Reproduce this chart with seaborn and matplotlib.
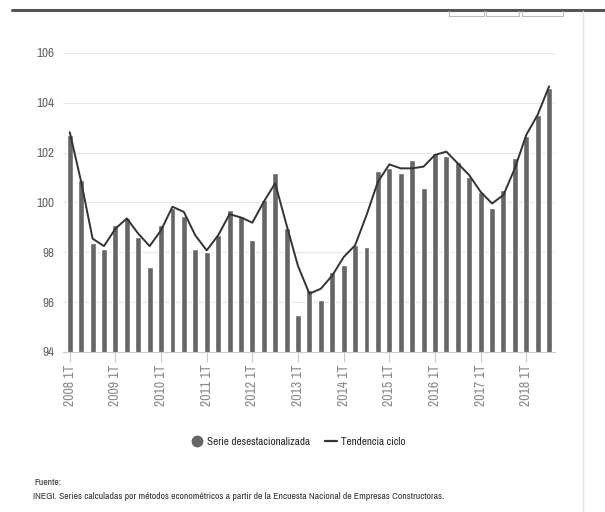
import matplotlib
matplotlib.use("Agg")
import matplotlib.pyplot as plt
from matplotlib import font_manager
from matplotlib.lines import Line2D
import numpy as np
import pandas as pd
import seaborn as sns

# Quarterly index, 2008 1T .. 2018 3T
years = list(range(2008, 2019))
quarters = [f"{y} {q}T" for y in years for q in ("I", "II", "III", "IV")][:43]

serie = [102.71, 100.90, 98.39, 98.12,
         99.11, 99.36, 98.62, 97.40,
         99.11, 99.76, 99.46, 98.12,
         98.01, 98.71, 99.69, 99.46,
         98.48, 100.12, 101.19, 98.98,
         95.49, 96.50, 96.09, 97.21,
         97.50, 98.28, 98.21, 101.28,
         101.37, 101.19, 101.69, 100.60,
         102.00, 101.88, 101.61, 101.03,
         100.43, 99.79, 100.52, 101.80,
         102.68, 103.52, 104.59]

tendencia = [102.82, 100.83, 98.55, 98.25,
             98.95, 99.36, 98.75, 98.25,
             98.89, 99.83, 99.62, 98.68,
             98.08, 98.68, 99.53, 99.40,
             99.19, 100.03, 100.77, 99.09,
             97.45, 96.34, 96.54, 97.07,
             97.81, 98.28, 99.49, 100.83,
             101.53, 101.37, 101.37, 101.44,
             101.91, 102.04, 101.57, 101.10,
             100.43, 99.96, 100.30, 101.37,
             102.71, 103.52, 104.66]

yticks = [94, 96, 98, 100, 102, 104, 106]
legend_labels = ["Serie desestacionalizada", "Tendencia ciclo"]
source_title = "Fuente:"
source_text = ("INEGI. Series calculadas por métodos econométricos a partir de la "
               "Encuesta Nacional de Empresas Constructoras.")

sns.set_style("white")

# pick a narrow face when one is available
entries = font_manager.fontManager.ttflist
narrow_names = sorted({f.name for f in entries
                       if "Narrow" in f.name or "Condensed" in f.name})
stretch = "normal"
if narrow_names:
    face = narrow_names[0]
elif any(f.name == "DejaVu Sans" and f.stretch == "condensed" for f in entries):
    face, stretch = "DejaVu Sans", "condensed"
else:
    face = "Liberation Sans"
plt.rcParams["font.family"] = [face, "DejaVu Sans"]
plt.rcParams["font.stretch"] = stretch
is_narrow = face != "Liberation Sans"

df = pd.DataFrame({"q": quarters, "serie": serie, "tendencia": tendencia})
df["pos"] = np.arange(len(df))

fig = plt.figure(figsize=(6.05, 5.12), dpi=100)
ax = fig.add_axes([0.104, 0.3125, 0.813, 0.584])

sns.barplot(data=df, x="pos", y="serie", color="#666666", width=0.52,
            saturation=1, ax=ax, native_scale=True, zorder=2)
sns.lineplot(data=df, x="pos", y="tendencia", color="#333333", lw=1.4,
             ax=ax, zorder=3)

ax.set_ylim(94, 106)
ax.set_xlim(-0.6, 42.5)
ax.set_yticks(yticks)
ax.set_yticklabels([str(v) for v in yticks], color="#666666",
                   fontsize=9.5 if is_narrow else 8)
ax.yaxis.grid(True, color="#e6e6e6", lw=0.8, zorder=0)
ax.xaxis.grid(False)
ax.set_xlabel("")
ax.set_ylabel("")
for s in ("top", "right", "left"):
    ax.spines[s].set_visible(False)
ax.spines["bottom"].set_color("#cccccc")
ax.spines["bottom"].set_linewidth(0.8)

year_pos = list(range(0, len(quarters), 4))
ax.set_xticks(year_pos)
ax.set_xticklabels([f"{quarters[i].split()[0]} 1T" for i in year_pos],
                   rotation=90, color="#8a8a8a", fontsize=10 if is_narrow else 8.5)
ax.tick_params(axis="x", length=7, width=0.8, color="#cccccc", pad=2,
               bottom=True)
ax.tick_params(axis="y", length=0, pad=6)

handles = [Line2D([], [], marker="o", ls="none", color="#666666", markersize=7.5),
           Line2D([], [], color="#333333", lw=1.6)]
fig.legend(handles, legend_labels, loc="center", bbox_to_anchor=(0.493, 0.137),
           ncol=2, frameon=False, handlelength=1.1,
           handletextpad=0.4, columnspacing=1.3,
           prop={"family": [face, "DejaVu Sans"], "stretch": stretch,
                 "weight": "bold", "size": 8 if is_narrow else 7})

fs_src = 7 if is_narrow else 6.2
fig.text(0.057, 0.053, source_title, fontsize=fs_src, color="#333333")
fig.text(0.055, 0.025, source_text, fontsize=fs_src, color="#333333")

# page frame: top rule, header buttons, right border
fig.add_artist(Line2D([0.02, 1.0], [0.981, 0.981], color="#555555", lw=2.2))
for x0, x1 in [(0.742, 0.800), (0.803, 0.858), (0.862, 0.930)]:
    fig.add_artist(Line2D([x0, x0, x1, x1], [0.978, 0.969, 0.969, 0.978],
                          color="#bbbbbb", lw=0.8))
fig.add_artist(Line2D([0.964, 0.964], [0.0, 0.978], color="#e4e4e4", lw=1.0))

fig.savefig("out.png", dpi=100)
